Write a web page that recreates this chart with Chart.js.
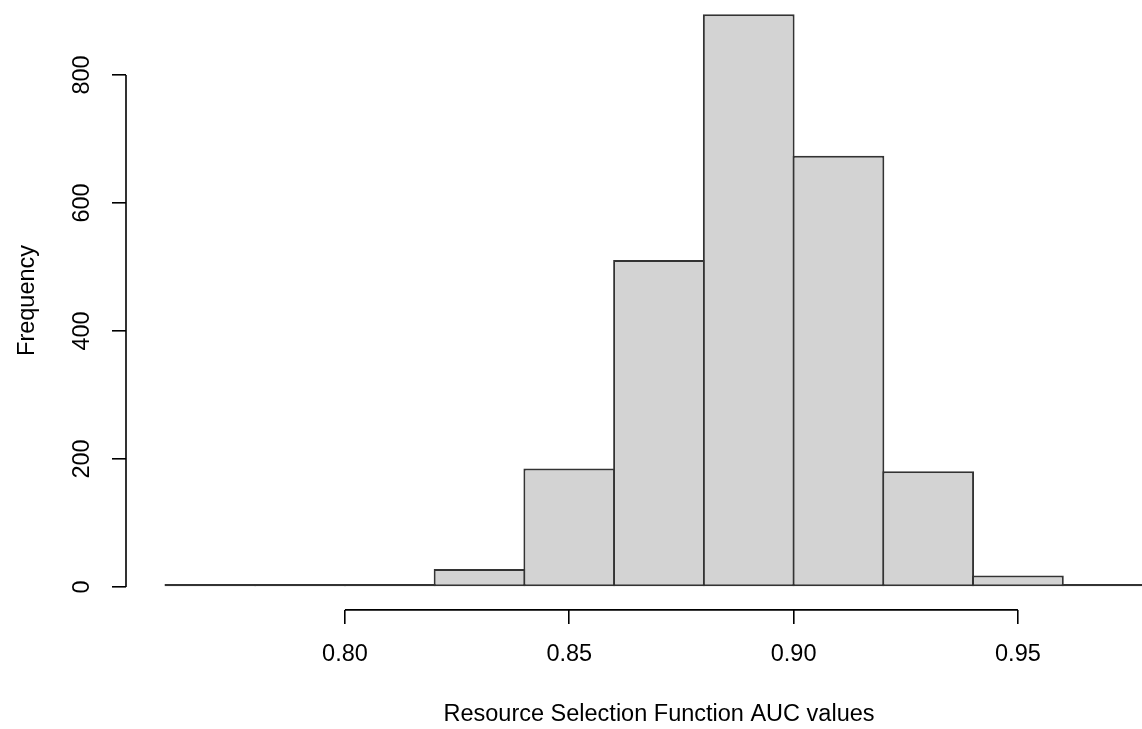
<!DOCTYPE html>
<html>
<head>
<meta charset="utf-8">
<script src="https://cdn.jsdelivr.net/npm/chart.js@4.4.1/dist/chart.umd.min.js"></script>
<style>
  html, body { margin: 0; padding: 0; background: #fff; overflow: hidden; }
  #wrap { width: 1142px; height: 729px; position: relative; overflow: hidden; }
  #c { position: absolute; left: 0; top: -9px; }
</style>
</head>
<body>
<div id="wrap"><canvas id="c" width="1192" height="738"></canvas></div>
<script>
// ---- data ----
const binStarts = [0.76, 0.78, 0.80, 0.82, 0.84, 0.86, 0.88, 0.90, 0.92, 0.94, 0.96];
const binWidth = 0.02;
const counts = [1, 1, 4, 28, 185, 511, 895, 674, 181, 18, 1];
const xTickValues = [0.80, 0.85, 0.90, 0.95];
const yTickValues = [0, 200, 400, 600, 800];
const xTitle = 'Resource Selection Function AUC values';
const yTitle = 'Frequency';

// R-style axis ranges (data range extended by 4%)
const xMin = 0.7512, xMax = 0.9888;
const yMin = -35.8, yMax = 931.25;

const FONT = { family: '"Liberation Sans", Arial, sans-serif', size: 23.5 };

const barData = binStarts.map((s, i) => ({ x: s + binWidth / 2, y: counts[i] }));

// draws R-like axis lines spanning only first..last tick
const rAxisLines = {
  id: 'rAxisLines',
  afterDraw(chart) {
    const { ctx, chartArea, scales } = chart;
    const xs = scales.x, ys = scales.y;
    ctx.save();
    ctx.strokeStyle = '#000';
    ctx.lineWidth = 1.6;
    ctx.beginPath();
    const yB = chartArea.bottom;
    ctx.moveTo(xs.getPixelForValue(xTickValues[0]), yB);
    ctx.lineTo(xs.getPixelForValue(xTickValues[xTickValues.length - 1]), yB);
    const xL = chartArea.left;
    ctx.moveTo(xL, ys.getPixelForValue(yTickValues[0]));
    ctx.lineTo(xL, ys.getPixelForValue(yTickValues[yTickValues.length - 1]));
    ctx.stroke();
    ctx.restore();
  }
};

const zeroPad = s => { s.paddingTop = 0; s.paddingBottom = 0; s.paddingLeft = 0; s.paddingRight = 0; };

new Chart(document.getElementById('c'), {
  type: 'bar',
  data: {
    datasets: [{
      data: barData,
      backgroundColor: '#D3D3D3',
      borderColor: '#333',
      borderWidth: 2,
      borderSkipped: false,
      barPercentage: 1.0223,
      categoryPercentage: 1,
      minBarLength: 3,
      grouped: false
    }]
  },
  options: {
    responsive: false,
    animation: false,
    events: [],
    layout: { padding: 0 },
    plugins: { legend: { display: false }, tooltip: { enabled: false } },
    scales: {
      x: {
        type: 'linear',
        offset: false,
        min: xMin, max: xMax,
        afterBuildTicks: s => { s.ticks = xTickValues.map(v => ({ value: v })); },
        afterFit: s => { s.height = 119.1; zeroPad(s); },
        grid: { offset: false, drawOnChartArea: false, drawTicks: true, tickLength: 14, color: '#000', lineWidth: 1.6 },
        border: { display: false },
        ticks: {
          font: FONT, color: '#000', padding: 16.5, autoSkip: false,
          maxRotation: 0, minRotation: 0,
          callback: v => Number(v).toFixed(2)
        },
        title: { display: true, text: xTitle, font: FONT, color: '#000', padding: { top: 0, bottom: 0 } }
      },
      y: {
        type: 'linear',
        min: yMin, max: yMax,
        afterBuildTicks: s => { s.ticks = yTickValues.map(v => ({ value: v })); },
        afterFit: s => { s.width = 126; zeroPad(s); },
        grid: { drawOnChartArea: false, drawTicks: true, tickLength: 14, color: '#000', lineWidth: 1.6 },
        border: { display: false },
        ticks: {
          font: FONT, color: '#000', padding: 10, autoSkip: false,
          minRotation: 90, maxRotation: 90, crossAlign: 'center',
          callback: v => String(v)
        },
        title: { display: true, text: yTitle, font: FONT, color: '#000', padding: { top: 13, bottom: 0 } }
      }
    }
  },
  plugins: [rAxisLines]
});
</script>
</body>
</html>
